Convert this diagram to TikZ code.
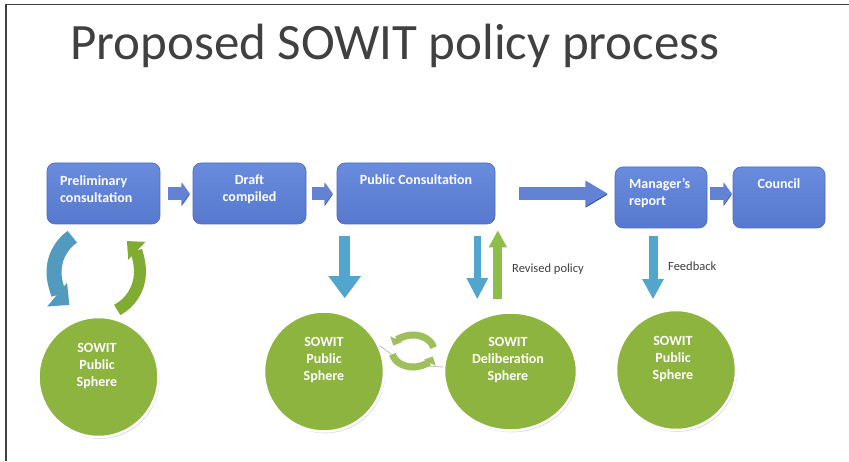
\documentclass[tikz,border=0pt]{standalone}
\usepackage{fontspec}
\setmainfont{Carlito}
\usetikzlibrary{arrows.meta,positioning,shapes.geometric,shadows}

\definecolor{boxtop}{RGB}{106,140,222}
\definecolor{boxbot}{RGB}{86,120,206}
\definecolor{boxedge}{RGB}{74,106,188}
\definecolor{flowblue}{RGB}{100,130,212}
\definecolor{flowdark}{RGB}{52,76,150}
\definecolor{downblue}{RGB}{82,166,206}
\definecolor{upgreen}{RGB}{142,190,72}
\definecolor{spheregreen}{RGB}{141,180,62}
\definecolor{tealarr}{RGB}{82,155,190}
\definecolor{greenarr}{RGB}{128,172,52}
\definecolor{labelgray}{RGB}{64,64,64}

\tikzset{
  stage/.style={rectangle, rounded corners=8pt, top color=boxtop, bottom color=boxbot,
    draw=boxedge, line width=0.6pt, minimum height=61, inner sep=0},
  stagetext/.style={text=white, font=\fontsize{14}{17}\selectfont\bfseries, inner sep=0},
  sphere/.style={circle, minimum size=120, fill=spheregreen, draw=white, line width=2.5pt,
    drop shadow={shadow xshift=1.2pt, shadow yshift=-1.8pt, fill=black!30}},
  flow/.style={flowblue, line width=13pt, -{Triangle[length=8pt,width=22pt]},
    preaction={draw=flowdark, transform canvas={yshift=-1.2pt}}},
  downarr/.style={downblue},
  note/.style={text=labelgray, font=\fontsize{12.5}{15}\selectfont, inner sep=0},
  ringarr/.style={spheregreen!85!white, line width=7pt, -{Triangle[length=7pt,width=13pt]}},
  ringline/.style={black!25, line width=0.8pt}
}

\begin{document}
\begin{tikzpicture}[x=1pt,y=1pt]
    \useasboundingbox (0,0) rectangle (849,461);

    % frame
    \draw[line width=1.5pt, black!75] (6,0) |- (849,456.5);

    % title
    \node[anchor=base west, inner sep=0, text=labelgray, font=\fontsize{51}{51}\selectfont] (title) at (70,401) {Proposed SOWIT policy process};

    %%%%%%%%%%%%%%%%%%%%%%%%%%%%%%%%%%%%%%%%%%%%%%%%%%%%%%%%%

    % stages of the process
    \node[stage, minimum width=113] (prelim) at (103.5,267.5) {};
    \node[stage, minimum width=113] (draft) at (249.5,267.5) {};
    \node[stage, minimum width=158] (pubcons) at (416,267.5) {};
    \node[stage, minimum width=92] (manager) at (661,263.5) {};
    \node[stage, minimum width=92] (council) at (779,263.5) {};

    \node[stagetext, anchor=north west, align=left] (prelimtext) at (60,286) {Preliminary\\consultation};
    \node[stagetext, anchor=north, align=center] (drafttext) at (249.5,286) {Draft\\compiled};
    \node[stagetext, anchor=north] (pubconstext) at (416,287) {Public Consultation};
    \node[stagetext, anchor=north west, align=left] (managertext) at (629,283) {Manager’s\\report};
    \node[stagetext, anchor=north] (counciltext) at (779,283) {Council};

    % arrows between stages
    \draw[flow, shorten <=8pt, shorten >=3pt] (prelim) -- (draft);
    \draw[flow, shorten <=6pt, shorten >=4pt] (draft) -- (pubcons);
    \draw[flow, -{Triangle[length=22pt,width=24pt]}, shorten <=24pt, shorten >=7pt] (pubcons.east) -- (pubcons.east -| manager.west);
    \draw[flow, shorten <=3pt, shorten >=1pt] ([yshift=4pt]manager.east) -- ([yshift=4pt]council.west);

    %%%%%%%%%%%%%%%%%%%%%%%%%%%%%%%%%%%%%%%%%%%%%%%%%%%%%%%%%

    % spheres
    \node[sphere] (pubsphA) at (98.5,84) {};
    \node[sphere] (pubsphB) at (324,89.5) {};
    \node[sphere, ellipse, minimum width=133, minimum height=118] (delib) at (510.5,89.5) {};
    \node[sphere] (pubsphC) at (676,91) {};

    \node[stagetext, anchor=north, align=center] (pubsphAtext) at (97,118) {SOWIT\\Public\\Sphere};
    \node[stagetext, anchor=north, align=center] (pubsphBtext) at (324,124) {SOWIT\\Public\\Sphere};
    \node[stagetext, anchor=north, align=center] (delibtext) at (508,124) {SOWIT\\Deliberation\\Sphere};
    \node[stagetext, anchor=north, align=center] (pubsphCtext) at (673,125) {SOWIT\\Public\\Sphere};

    % consultation going down, policy coming back
    \draw[downarr, line width=11pt, -{Triangle[length=22pt,width=31pt]}, shorten <=12pt, shorten >=12pt] ([xshift=8pt]pubcons.south west) -- ([xshift=8pt]pubcons.south west |- pubsphB.north);
    \draw[downarr, line width=7pt, -{Triangle[length=21pt,width=20pt]}, shorten <=12pt, shorten >=12pt] ([xshift=-18pt]pubcons.south east) -- ([xshift=-18pt]pubcons.south east |- delib.north);
    \draw[upgreen, line width=9pt, -{Triangle[length=17pt,width=17pt]}, shorten <=12.5pt, shorten >=6pt] ([xshift=2.5pt]pubcons.south east |- delib.north) -- ([xshift=2.5pt]pubcons.south east);
    \draw[downarr, line width=9pt, -{Triangle[length=20pt,width=20pt]}, shorten <=8pt, shorten >=9.5pt] ([xshift=-8pt]manager.south) -- ([xshift=-8pt]manager.south |- pubsphC.north);

    \node[note, anchor=base west] (revised) at (512,188) {Revised policy};
    \node[note, anchor=base west] (feedback) at (668,190) {Feedback};

    %%%%%%%%%%%%%%%%%%%%%%%%%%%%%%%%%%%%%%%%%%%%%%%%%%%%%%%%%

    % preliminary consultation loop
    \coordinate (turn) at (97,189);
    \draw[tealarr, line width=15pt, -{Triangle[length=16pt,width=30pt]}] ([shift={(125:43)}]turn) arc[start angle=125, end angle=230, radius=43];
    \draw[greenarr, line width=12pt, -{Triangle[length=14pt,width=24pt]}] ([shift={(-62:43)}]turn) arc[start angle=-62, end angle=46, radius=43];

    % exchange between the two spheres
    \coordinate (ring) at (413,110);
    \draw[ringline] (pubsphB.25) -- ([shift={(195:21 and 16)}]ring);
    \draw[ringline] ([shift={(-65:21 and 16)}]ring) -- (delib.west |- 0,94);
    \draw[ringarr] ([shift={(12:21 and 16)}]ring) arc[start angle=12, end angle=160, x radius=21, y radius=16];
    \draw[ringarr] ([shift={(192:21 and 16)}]ring) arc[start angle=192, end angle=340, x radius=21, y radius=16];

\end{tikzpicture}
\end{document}
